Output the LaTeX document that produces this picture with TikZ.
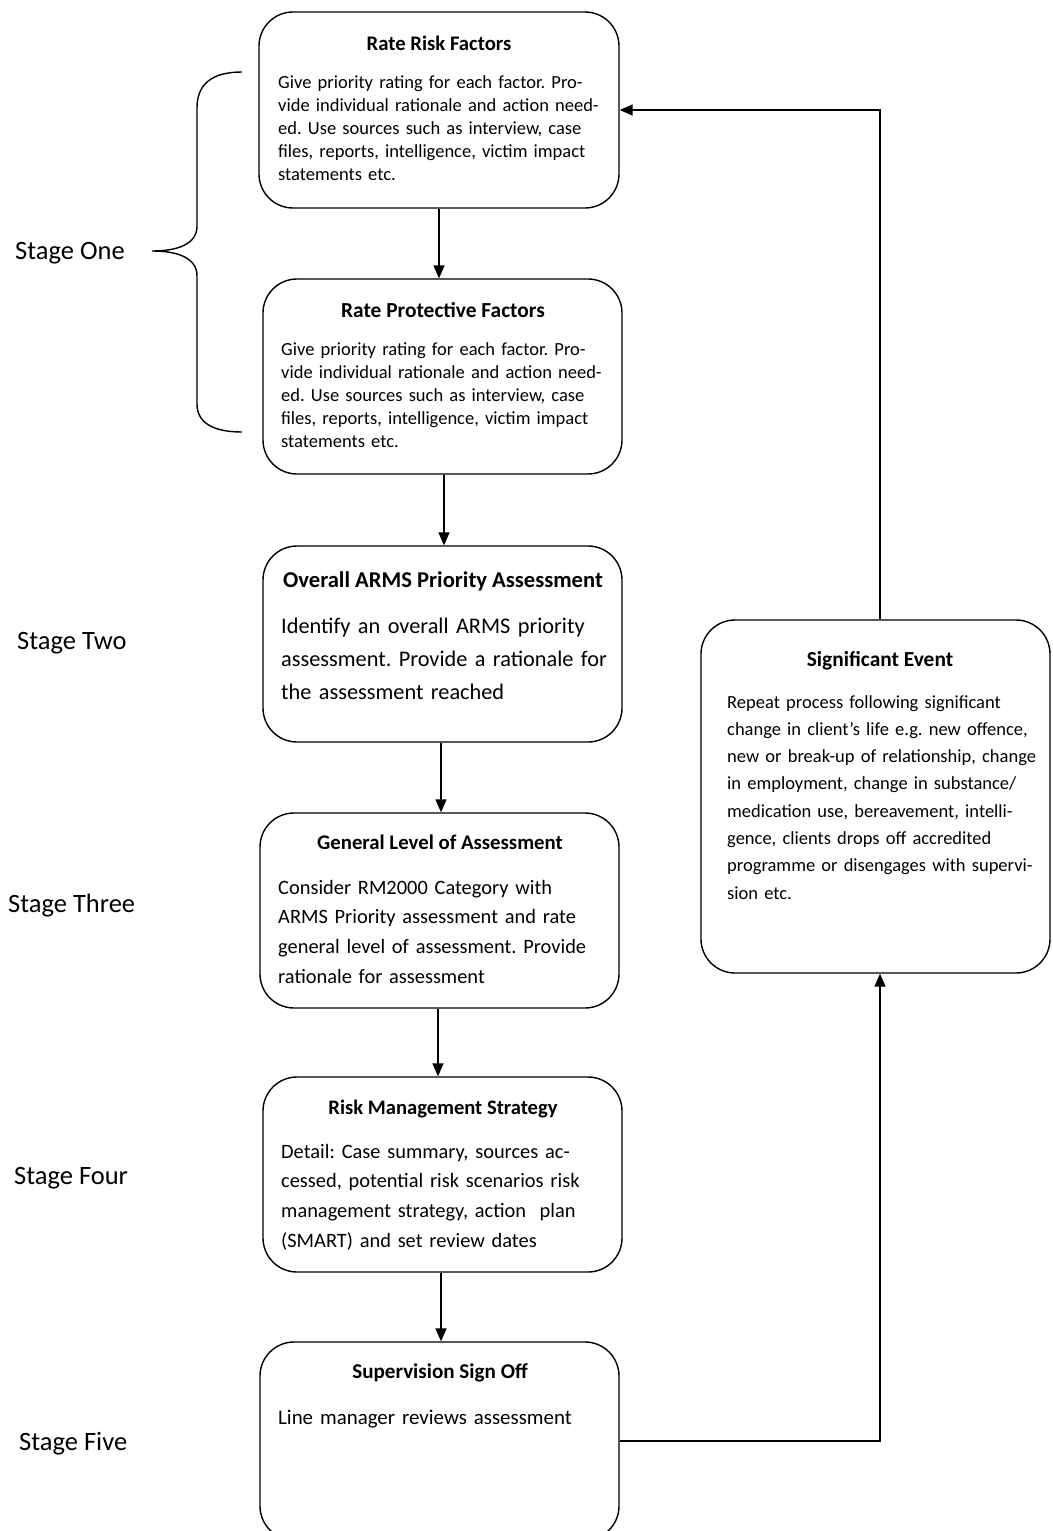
\documentclass[tikz,border=0pt]{standalone}
\usepackage{fontspec}
\setmainfont{Carlito}
\usetikzlibrary{arrows.meta}
\begin{document}
\frenchspacing
\begin{tikzpicture}[x=1pt,y=-1pt,
  stagebox/.style={draw,line width=1.4pt,rounded corners=34pt,inner sep=0pt},
  boxtitle/.style={anchor=base,inner sep=0pt},
  boxbody/.style={anchor=base west,inner sep=0pt,align=left},
  stage/.style={anchor=base west,inner sep=0pt,font=\fontsize{26.5}{30}\selectfont},
  arr/.style={-{Triangle[length=13pt,width=11pt]},line width=1.7pt}]
\useasboundingbox (0,0) rectangle (1052,1531);

\node[stagebox,minimum width=360,minimum height=196] (rrf) at (439,110) {};
\node[boxtitle,font=\fontsize{20.7}{24}\selectfont\bfseries] (rrf-t) at (439,50) {Rate Risk Factors};
\node[boxbody,text width=340,font=\fontsize{18.5}{23}\selectfont] (rrf-b) at (278,88)
  {Give priority rating for each factor. Pro-\\vide individual rationale and action need-\\ed. Use sources such as interview, case\\files, reports, intelligence, victim impact\\statements etc.};

\node[stagebox,minimum width=359,minimum height=195] (rpf) at (442.5,376.5) {};
\node[boxtitle,font=\fontsize{21.4}{24}\selectfont\bfseries] (rpf-t) at (443,317) {Rate Protective Factors};
\node[boxbody,text width=340,font=\fontsize{18.5}{23}\selectfont] (rpf-b) at (281,355)
  {Give priority rating for each factor. Pro-\\vide individual rationale and action need-\\ed. Use sources such as interview, case\\files, reports, intelligence, victim impact\\statements etc.};

\node[stagebox,minimum width=359,minimum height=196] (arms) at (442.5,644) {};
\node[boxtitle,font=\fontsize{22.6}{26}\selectfont\bfseries] (arms-t) at (443,587) {Overall ARMS Priority Assessment};
\node[boxbody,text width=340,font=\fontsize{22.3}{33}\selectfont] (arms-b) at (281,633)
  {Identify an overall ARMS priority\\assessment. Provide a rationale for\\the assessment reached};

\node[stagebox,minimum width=359,minimum height=195] (lvl) at (439.5,910.5) {};
\node[boxtitle,font=\fontsize{20.8}{24}\selectfont\bfseries] (lvl-t) at (440,849) {General Level of Assessment};
\node[boxbody,text width=340,font=\fontsize{20.4}{29.7}\selectfont] (lvl-b) at (278,894)
  {Consider RM2000 Category with\\ARMS Priority assessment and rate\\general level of assessment. Provide\\rationale for assessment};

\node[stagebox,minimum width=359,minimum height=195] (rms) at (442.5,1174.5) {};
\node[boxtitle,font=\fontsize{20.6}{24}\selectfont\bfseries] (rms-t) at (443,1114) {Risk Management Strategy};
\node[boxbody,text width=340,font=\fontsize{20.4}{29.7}\selectfont] (rms-b) at (281,1158)
  {Detail: Case summary, sources ac-\\cessed, potential risk scenarios risk\\management strategy, action\ \ plan\\(SMART) and set review dates};

\node[stagebox,minimum width=359,minimum height=198] (sso) at (439.5,1441) {};
\node[boxtitle,font=\fontsize{21.1}{24}\selectfont\bfseries] (sso-t) at (440,1378) {Supervision Sign Off};
\node[boxbody,text width=340,font=\fontsize{20.9}{30}\selectfont] (sso-b) at (278,1424)
  {Line manager reviews assessment};

\node[stagebox,minimum width=349,minimum height=353] (sig) at (875.5,796.5) {};
\node[boxtitle,font=\fontsize{21.4}{24}\selectfont\bfseries] (sig-t) at (880,666) {Significant Event};
\node[boxbody,text width=320,font=\fontsize{18.5}{27.3}\selectfont] (sig-b) at (727,708)
  {Repeat process following significant\\change in client’s life e.g. new offence,\\new or break-up of relationship, change\\in employment, change in substance/\\medication use, bereavement, intelli-\\gence, clients drops off accredited\\programme or disengages with supervi-\\sion etc.};

% stages
\node[stage] (s1) at (15,259) {Stage One};
\node[stage] (s2) at (17,649) {Stage Two};
\node[stage] (s3) at (8,912) {Stage Three};
\node[stage] (s4) at (14,1184) {Stage Four};
\node[stage] (s5) at (19,1450) {Stage Five};

\draw[line width=1.4pt] (242,72) .. controls (212,72) and (197,84) .. (197,108) -- (197,226)
  .. controls (197,244) and (178,251) .. (152,251) .. controls (178,251) and (197,258) .. (197,276)
  -- (197,404) .. controls (197,422) and (212,432) .. (242,432);

\draw[arr] (rrf.south) -- (rrf.south |- rpf.north);
\draw[arr] ([xshift=1.5pt]rpf.south) -- ([xshift=1.5pt]arms.north);
\draw[arr] ([xshift=-1.5pt]arms.south) -- ([xshift=-1.5pt]arms.south |- lvl.north);
\draw[arr] ([xshift=-1.5pt]lvl.south) -- ([xshift=-1.5pt]lvl.south |- rms.north);
\draw[arr] ([xshift=-1.5pt]rms.south) -- ([xshift=-1.5pt]rms.south |- sso.north);

\draw[arr] (sso.east) -| ([xshift=4.5pt]sig.south);
\draw[arr] ([xshift=4.5pt]sig.north) |- (rrf.east);
\end{tikzpicture}
\end{document}
